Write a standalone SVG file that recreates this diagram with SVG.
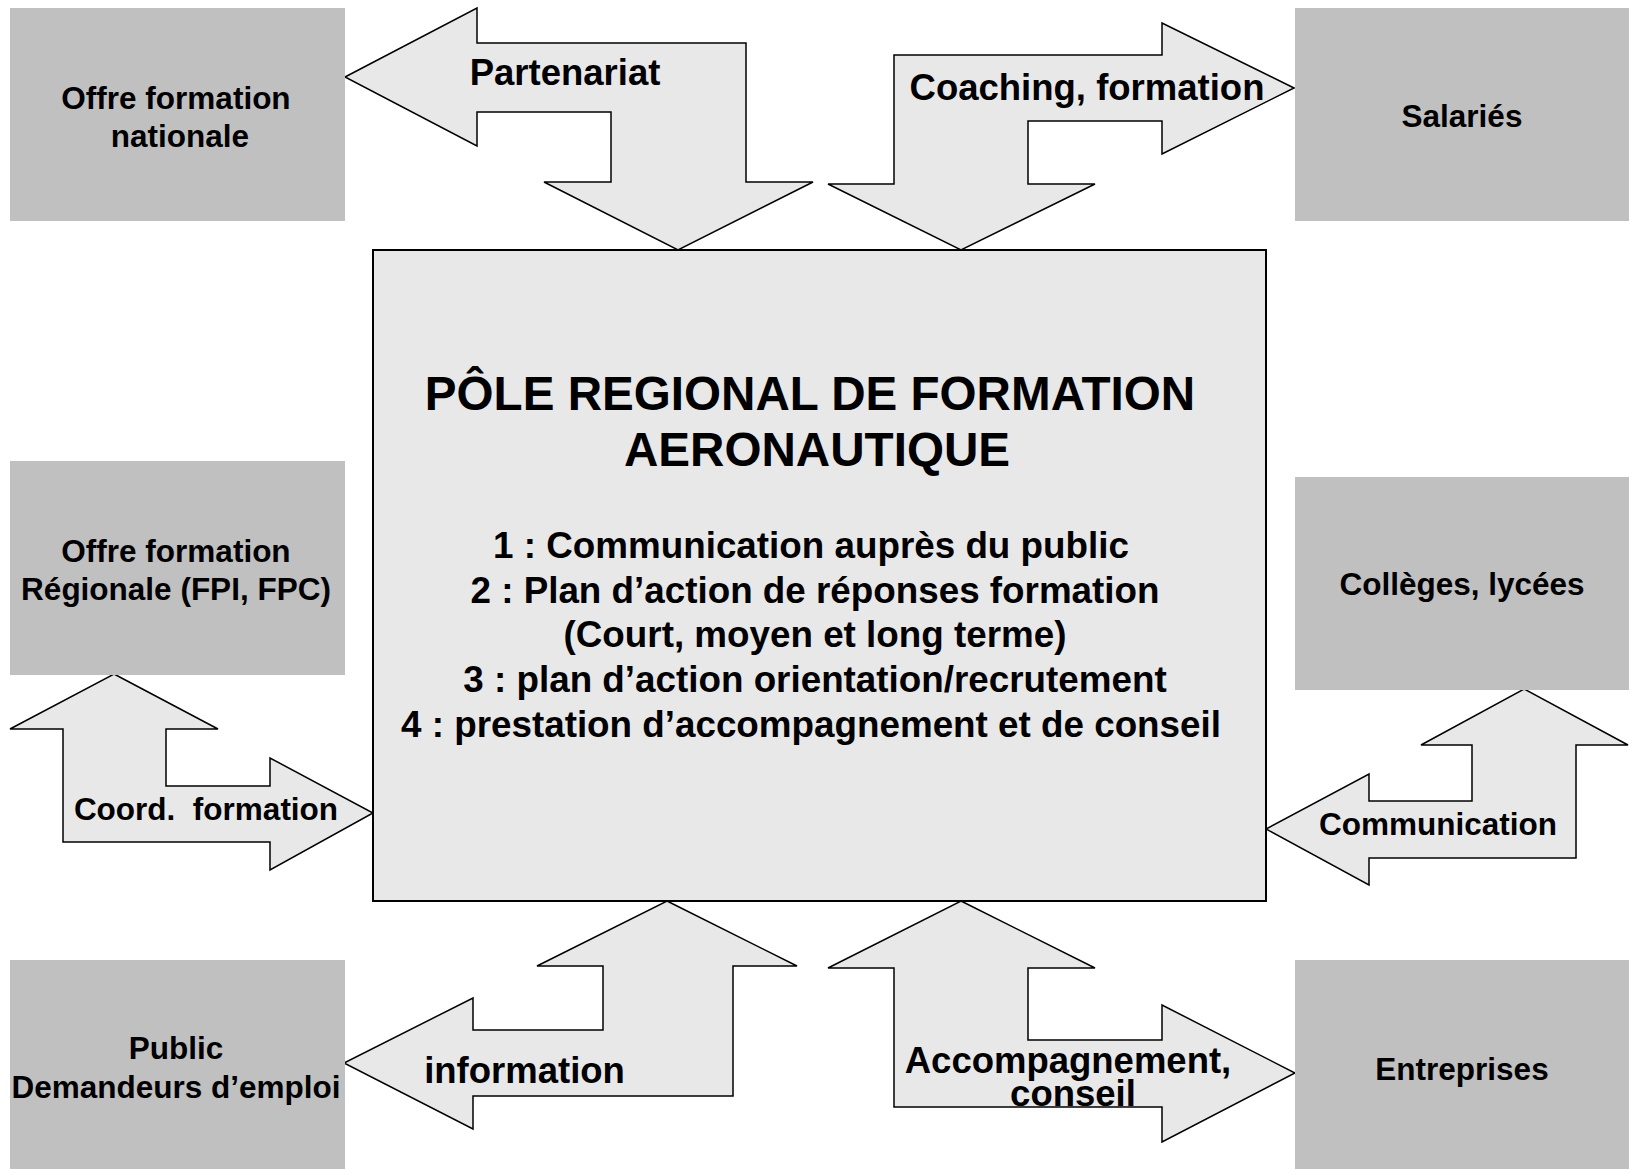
<svg xmlns="http://www.w3.org/2000/svg" width="1633" height="1169" viewBox="0 0 1633 1169">
<style>
.box{fill:#C0C0C0;stroke:none}
.center{fill:#E8E8E8;stroke:#000;stroke-width:2}
.arrow{fill:#E8E8E8;stroke:#000;stroke-width:1.5;stroke-linejoin:miter}
text{font-family:"Liberation Sans",Arial,sans-serif;font-weight:bold;fill:#000;text-anchor:middle}
.lbl{font-size:31.5px}
.alb{font-size:36.5px}
.title{font-size:47.6px}
.list{font-size:36.8px}
</style>
<rect width="1633" height="1169" fill="#FFFFFF"/>
<g id="connectors">
  <g id="arrow-partenariat">
    <polygon class="arrow" points="345,77 477,8 477,43 746,43 746,182 813,182 678,250 544,182 611,182 611,112 477,112 477,146"/>
    <text class="alb" x="565" y="85">Partenariat</text>
  </g>
  <g id="arrow-coaching">
    <polygon class="arrow" points="1294,88 1162,23 1162,55 894,55 894,184 828,184 961,250 1095,184 1028,184 1028,121 1162,121 1162,154"/>
    <text class="alb" x="1087" y="100">Coaching, formation</text>
  </g>
  <g id="arrow-coord">
    <polygon class="arrow" points="114,674 218,729 166,729 166,786 270,786 270,758 373,813 270,870 270,842 63,842 63,729 10,729"/>
    <text class="lbl" x="206" y="820" xml:space="preserve">Coord.  formation</text>
  </g>
  <g id="arrow-communication">
    <polygon class="arrow" points="1524,689 1628,745 1576,745 1576,858 1369,858 1369,885 1266,829 1369,774 1369,801 1472,801 1472,745 1421,745"/>
    <text class="lbl" x="1438" y="835">Communication</text>
  </g>
  <g id="arrow-information">
    <polygon class="arrow" points="667,901 797,966 733,966 733,1096 473,1096 473,1129 344,1063 473,998 473,1030 603,1030 603,966 537,966"/>
    <text class="alb" x="524.5" y="1082.5">information</text>
  </g>
  <g id="arrow-accompagnement">
    <polygon class="arrow" points="961,901 1095,968 1028,968 1028,1040 1162,1040 1162,1005 1295,1073 1162,1142 1162,1107 894,1107 894,968 828,968"/>
    <text class="alb" x="1068" y="1073">Accompagnement,</text>
    <text class="alb" x="1073" y="1106">conseil</text>
  </g>
</g>
<g id="node-offre-nationale">
  <rect class="box" x="10" y="8" width="335" height="213"/>
  <text class="lbl" x="176" y="109">Offre formation</text>
  <text class="lbl" x="180" y="147">nationale</text>
</g>
<g id="node-salaries">
  <rect class="box" x="1295" y="8" width="334" height="213"/>
  <text class="lbl" x="1462" y="127">Salariés</text>
</g>
<g id="node-offre-regionale">
  <rect class="box" x="10" y="461" width="335" height="214"/>
  <text class="lbl" x="176" y="562">Offre formation</text>
  <text class="lbl" x="176" y="600">Régionale (FPI, FPC)</text>
</g>
<g id="node-colleges">
  <rect class="box" x="1295" y="477" width="334" height="213"/>
  <text class="lbl" x="1462" y="595">Collèges, lycées</text>
</g>
<g id="node-public">
  <rect class="box" x="10" y="960" width="335" height="209"/>
  <text class="lbl" x="176" y="1059">Public</text>
  <text class="lbl" x="176" y="1098">Demandeurs d’emploi</text>
</g>
<g id="node-entreprises">
  <rect class="box" x="1295" y="960" width="334" height="209"/>
  <text class="lbl" x="1462" y="1080">Entreprises</text>
</g>
<g id="node-pole">
  <rect class="center" x="373" y="250" width="893" height="651"/>
  <text class="title" x="810" y="409.5">PÔLE REGIONAL DE FORMATION</text>
  <text class="title" x="817" y="466">AERONAUTIQUE</text>
  <text class="list" x="811" y="558">1 : Communication auprès du public</text>
  <text class="list" x="815" y="602.5">2 : Plan d’action de réponses formation</text>
  <text class="list" x="815" y="647">(Court, moyen et long terme)</text>
  <text class="list" x="815" y="692">3 : plan d’action orientation/recrutement</text>
  <text class="list" x="811" y="736.5">4 : prestation d’accompagnement et de conseil</text>
</g>
</svg>
